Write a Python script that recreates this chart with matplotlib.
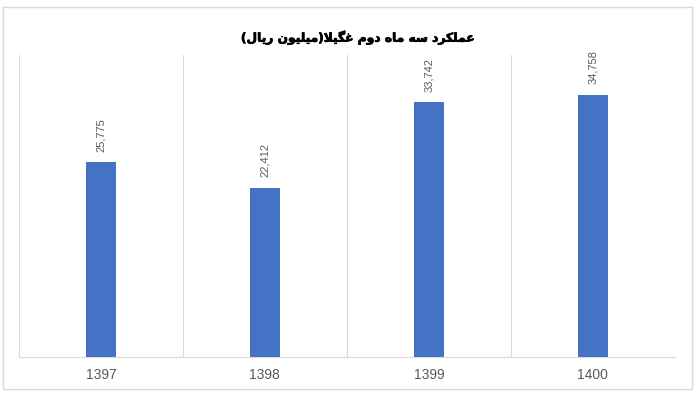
import matplotlib
matplotlib.use("Agg")
import matplotlib.pyplot as plt
import matplotlib.patheffects as pe
from matplotlib.patches import Rectangle

# data
years = ["1397", "1398", "1399", "1400"]
values = [25775, 22412, 33742, 34758]
title_text = "عملکرد سه ماه دوم غگیلا(میلیون ریال)"

# simple arabic/persian shaping (matplotlib has no complex text layout)
# letter: (isolated, final, initial, medial)
FORMS = {
    "ا": ("\uFE8D", "\uFE8E", None, None),
    "د": ("\uFEA9", "\uFEAA", None, None),
    "ر": ("\uFEAD", "\uFEAE", None, None),
    "و": ("\uFEED", "\uFEEE", None, None),
    "ع": ("\uFEC9", "\uFECA", "\uFECB", "\uFECC"),
    "غ": ("\uFECD", "\uFECE", "\uFECF", "\uFED0"),
    "س": ("\uFEB1", "\uFEB2", "\uFEB3", "\uFEB4"),
    "ل": ("\uFEDD", "\uFEDE", "\uFEDF", "\uFEE0"),
    "م": ("\uFEE1", "\uFEE2", "\uFEE3", "\uFEE4"),
    "ن": ("\uFEE5", "\uFEE6", "\uFEE7", "\uFEE8"),
    "ه": ("\uFEE9", "\uFEEA", "\uFEEB", "\uFEEC"),
    "ک": ("\uFB8E", "\uFB8F", "\uFB90", "\uFB91"),
    "گ": ("\uFB92", "\uFB93", "\uFB94", "\uFB95"),
    "ی": ("\uFBFC", "\uFBFD", "\uFBFE", "\uFBFF"),
}


def shape(text):
    out = []
    i = 0
    n = len(text)
    while i < n:
        ch = text[i]
        if ch not in FORMS:
            out.append(ch)
            i += 1
            continue
        prev = i > 0 and text[i - 1] in FORMS and FORMS[text[i - 1]][2] is not None
        if ch == "ل" and i + 1 < n and text[i + 1] == "ا":
            out.append("\uFEFC" if prev else "\uFEFB")
            i += 2
            continue
        nxt = FORMS[ch][2] is not None and i + 1 < n and text[i + 1] in FORMS
        iso, fin, ini, med = FORMS[ch]
        if prev and nxt:
            out.append(med)
        elif prev:
            out.append(fin)
        elif nxt:
            out.append(ini)
        else:
            out.append(iso)
        i += 1
    vis = "".join(out)[::-1]
    return vis.translate(str.maketrans("()", ")("))


blue = "#4472C4"
grid = "#d9d9d9"
gray = "#595959"

fig = plt.figure(figsize=(7, 4), dpi=100)
fig.patch.set_facecolor("white")
ax = fig.add_axes([0.027, 0.1075, 0.937, 0.755])

x = range(len(years))
ax.bar(x, values, width=0.183, color=blue, zorder=3)

for i, v in enumerate(values):
    ax.annotate(f"{v:,}", (i, v), xytext=(0, 7.5), textcoords="offset points",
                rotation=90, ha="center", va="bottom", fontsize=8,
                color=gray, family="Liberation Sans")

ax.set_xlim(-0.5, len(years) - 0.5)
ax.set_ylim(0, 40000)
for b in [i - 0.5 for i in range(len(years) + 1)]:
    ax.axvline(b, color=grid, lw=0.8, zorder=1)

for s in ["top", "right", "left"]:
    ax.spines[s].set_visible(False)
ax.spines["bottom"].set_color(grid)
ax.spines["bottom"].set_linewidth(0.8)
ax.set_yticks([])
ax.set_xticks(list(x))
ax.set_xticklabels(years, fontsize=10, color=gray, family="Liberation Sans")
ax.tick_params(axis="x", length=0, pad=8)

# title, a bit heavier than plain bold like the original
fig.text(0.511, 0.905, shape(title_text), ha="center", va="center",
         fontsize=8.8, fontweight="bold", family=["DejaVu Sans"], color="black",
         path_effects=[pe.withStroke(linewidth=0.5, foreground="black")])

fig.patches.append(Rectangle((0.004, 0.0275), 0.985, 0.955, transform=fig.transFigure,
                             fill=False, edgecolor=grid, lw=1))

fig.savefig("out.png", dpi=100)
